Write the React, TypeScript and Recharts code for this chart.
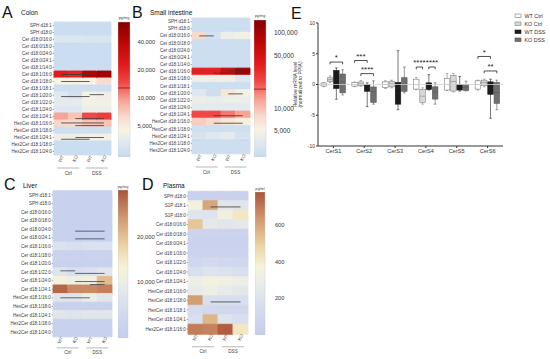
import React from "react";
import { BarChart, Bar, Cell, XAxis, YAxis, ReferenceLine, Label, Legend } from "recharts";

const FONT = "'Liberation Sans', Arial, Helvetica, sans-serif";

const COLUMNS = ["WT", "KO", "WT", "KO"];
const GROUPS = ["Ctrl", "DSS"];

// A: colon, pg/mg. columns: WT Ctrl, KO Ctrl, WT DSS, KO DSS
const COLON_LIPIDS = [
  "SPH d18:1", "SPH d18:0", "Cer d18:0/16:0", "Cer d18:0/18:0", "Cer d18:0/24:0", "Cer d18:0/24:1",
  "Cer d18:1/14:0", "Cer d18:1/16:0", "Cer d18:1/18:0", "Cer d18:1/18:1", "Cer d18:1/20:0",
  "Cer d18:1/22:0", "Cer d18:1/24:0", "Cer d18:1/24:1", "HexCer d18:1/16:0", "HexCer d18:1/18:0",
  "HexCer d18:1/24:1", "Hex2Cer d18:1/18:0", "Hex2Cer d18:1/24:0",
];
const COLON_VALUES = [
  [2450, 2450, 2450, 2450], [2450, 2450, 2450, 2450], [3100, 3100, 3000, 3000], [2450, 2450, 2450, 2450],
  [2450, 2450, 2450, 2450], [2450, 2450, 2450, 2450], [2500, 2500, 2500, 2500], [22500, 21000, 43000, 51000],
  [4300, 4300, 4500, 6000], [2550, 2550, 2550, 2550], [3300, 2700, 4300, 4000], [3500, 3500, 4200, 4200],
  [3200, 3200, 3800, 3800], [9300, 7400, 14500, 16000], [6300, 6300, 7400, 7400], [2600, 2600, 2600, 2600],
  [3900, 3900, 4200, 4200], [2450, 2450, 2450, 2450], [2450, 2450, 2450, 2450],
];
// [row, from column, to column, offset in rows]
const COLON_SIG = [
  [7, 0, 2, 0], [8, 0, 2, 0], [10, 0, 2, 0.15], [10, 2, 3, -0.12], [13, 1, 3, 0.3],
  [14, 0, 3, -0.08], [14, 1, 3, 0.3], [16, 1, 3, 0], [16, 0, 2, 0.25],
];

// B: small intestine, pg/mg
const SI_LIPIDS = COLON_LIPIDS;
const SI_VALUES = [
  [2560, 2560, 2560, 2560], [2560, 2560, 2560, 2560], [7950, 2800, 4240, 4800], [2560, 2560, 2560, 2560],
  [2560, 2560, 2560, 2560], [2560, 2560, 2560, 2560], [2560, 2560, 2560, 2560], [36000, 36000, 60000, 107000],
  [4600, 4600, 4600, 3450], [2560, 2560, 2560, 2560], [3450, 2560, 6400, 4800], [4240, 4000, 4240, 4240],
  [3730, 3730, 3730, 3730], [22700, 22700, 17000, 13100], [8990, 7950, 6400, 5690], [2600, 2600, 2600, 2600],
  [2900, 3450, 3730, 2900], [2560, 2560, 2560, 2560], [2560, 2560, 2560, 2560],
];
const SI_SIG = [
  [2, 0, 1, 0], [7, 1, 3, 0.22], [7, 2, 3, -0.1], [10, 2, 3, 0.1], [13, 1, 3, 0.15], [14, 1, 3, 0.2],
];

// C: liver, pg/mg
const LIVER_LIPIDS = [
  "SPH d18:1", "SPH d18:0", "Cer d18:0/16:0", "Cer d18:0/18:0", "Cer d18:0/24:0", "Cer d18:0/24:1",
  "Cer d18:1/16:0", "Cer d18:1/18:0", "Cer d18:1/20:0", "Cer d18:1/22:0", "Cer d18:1/24:0",
  "Cer d18:1/24:1", "HexCer d18:1/16:0", "HexCer d18:1/18:0", "HexCer d18:1/24:1",
  "Hex2Cer d18:1/18:0", "Hex2Cer d18:1/24:0",
];
const LIVER_VALUES = [
  [4700, 4700, 4700, 4700], [4700, 4700, 4700, 4700], [4700, 4700, 4700, 4700], [4700, 4700, 4700, 4700],
  [4700, 4700, 4700, 4700], [4700, 4700, 4700, 4700], [7400, 7000, 7400, 7400], [4900, 4900, 4900, 4900],
  [4800, 4800, 4800, 4800], [7950, 6900, 7400, 8300], [11700, 10400, 11100, 20600], [36600, 29000, 29000, 31000],
  [8300, 7950, 9950, 8300], [4800, 4800, 4800, 4800], [8300, 7800, 8300, 8300], [4800, 4800, 4800, 4800],
  [4700, 4700, 4700, 4700],
];
const LIVER_SIG = [
  [4, 1, 3, 0.22], [5, 1, 3, 0.12], [9, 0, 1, -0.15], [9, 1, 3, 0.15], [10, 1, 3, 0.1], [10, 2, 3, 0.45],
  [12, 0, 2, 0],
];

// D: plasma, pg/ml
const PLASMA_LIPIDS = [
  "SPH d18:0", "S1P d18:1", "S1P d18:0", "Cer d18:0/16:0", "Cer d18:0/18:0", "Cer d18:0/24:1",
  "Cer d18:1/16:0", "Cer d18:1/22:0", "Cer d18:1/24:0", "Cer d18:1/24:1", "HexCer d18:1/16:0",
  "HexCer d18:1/18:0", "HexCer d18:1/18:1", "HexCer d18:1/24:1", "Hex2Cer d18:1/16:0",
];
const PLASMA_VALUES = [
  [40, 40, 40, 40], [340, 600, 230, 220], [220, 210, 330, 420], [520, 250, 230, 250], [60, 60, 60, 60],
  [50, 50, 50, 50], [60, 70, 60, 60], [100, 130, 110, 100], [170, 210, 190, 170], [300, 340, 320, 290],
  [270, 300, 260, 240], [620, 180, 170, 170], [140, 120, 110, 110], [170, 560, 210, 170], [690, 680, 760, 420],
];
const PLASMA_SIG = [[1, 1, 3, 0.15], [11, 1, 3, 0.15]];

// E: relative mRNA, five-number summaries [min, q1, median, q3, max]
const GENES = ["CerS1", "CerS2", "CerS3", "CerS4", "CerS5", "CerS6"];
const WT_CTRL = [
  [-0.35, -0.25, 0, 0.25, 0.35], [-0.35, -0.27, 0, 0.3, 0.4], [-0.65, -0.48, 0, 0.43, 0.6],
  [-0.85, -0.75, 0, 0.86, 1.13], [-1.0, -0.9, 0, 0.97, 1.8], [-0.9, -0.75, 0, 0.6, 0.7],
];
const KO_CTRL = [
  [0.3, 0.45, 0.8, 1.1, 1.4], [-0.3, -0.2, 0.1, 0.43, 0.65], [-0.54, -0.38, 0.1, 0.54, 0.7],
  [-3.2, -2.9, -1.9, -0.8, -0.54], [-1.2, -1.07, 0.5, 1.5, 1.8], [-0.38, -0.2, 0.3, 0.7, 0.86],
];
const WT_DSS = [
  [-2.4, -0.65, 1.0, 2.3, 2.7], [-3.6, -1.1, -0.3, 0, 0.27], [-4.1, -3.2, -0.9, 0.32, 5.5],
  [-0.9, -0.8, -0.2, 0.27, 1.6], [-1.07, -0.9, -0.4, 0, 1.3], [-5.5, -1.6, -0.3, 0.43, 0.86],
];
const KO_DSS = [
  [-1.7, -1.35, 0.45, 1.7, 2.4], [-3.2, -2.9, -1.2, -0.4, 0.6], [-1.35, -1.1, 0, 1.1, 2.85],
  [-3.2, -2.37, -1.2, -0.38, 0.27], [-1.05, -0.95, -0.45, 0, 0.54], [-4.1, -3.06, -1.3, 0.32, 0.7],
];
const SIGNIF = [
  { gene: "CerS1", from: 1, to: 3, y: 3.65, mark: "*" },
  { gene: "CerS2", from: 0, to: 2, y: 3.9, mark: "***" },
  { gene: "CerS2", from: 1, to: 3, y: 1.77, mark: "****" },
  { gene: "CerS4", from: 0, to: 1, y: 2.84, mark: "****" },
  { gene: "CerS4", from: 2, to: 3, y: 2.84, mark: "****" },
  { gene: "CerS6", from: 0, to: 2, y: 4.56, mark: "*" },
  { gene: "CerS6", from: 1, to: 3, y: 2.2, mark: "**" },
];

const SERIES = [
  { name: "WT Ctrl", fill: "#ffffff", stroke: "#7a7a7a" },
  { name: "KO Ctrl", fill: "#d8d8d8", stroke: "#858585" },
  { name: "WT DSS", fill: "#1c1c1c", stroke: "#1c1c1c" },
  { name: "KO DSS", fill: "#6f6f6f", stroke: "#555555" },
];

const REDS: [number, string][] = [
  [0, "#c6daf0"], [0.1, "#dfe8f0"], [0.2, "#f8f3e2"], [0.3, "#f9d9cc"], [0.42, "#f6a394"],
  [0.55, "#f04848"], [0.68, "#e21a1a"], [0.85, "#bb0505"], [1, "#850000"],
];
const BROWNS: [number, string][] = [
  [0, "#c4cdec"], [0.2, "#d6ddef"], [0.38, "#eceee6"], [0.48, "#f7f2d8"], [0.62, "#ecd5a6"],
  [0.8, "#d39c72"], [1, "#ab543a"],
];

function ramp(stops: [number, string][], t: number) {
  const u = Math.max(0, Math.min(1, t));
  let i = 0;
  while (i < stops.length - 2 && u > stops[i + 1][0]) i++;
  const [t0, c0] = stops[i];
  const [t1, c1] = stops[i + 1];
  const f = (u - t0) / (t1 - t0);
  const a = parseInt(c0.slice(1), 16);
  const b = parseInt(c1.slice(1), 16);
  const ch = (s: number) => Math.round(((a >> s) & 255) + (((b >> s) & 255) - ((a >> s) & 255)) * f);
  return `rgb(${ch(16)},${ch(8)},${ch(0)})`;
}
const logColor = (stops: [number, string][], lo: number, hi: number) => (v: number) =>
  ramp(stops, Math.log(v / lo) / Math.log(hi / lo));
const linColor = (stops: [number, string][], lo: number, hi: number) => (v: number) =>
  ramp(stops, (v - lo) / (hi - lo));

// WT/KO rotated labels, plus the Ctrl / DSS group underline drawn from the first column of each pair
function ColTick(props: any) {
  const { x, y, payload, colW, groupDy } = props;
  const j = Math.floor(payload.value);
  const px = x + 3;
  const py = y + 1.5;
  const gx = x + colW / 2;
  const gy = y + groupDy;
  return (
    <g fontFamily={FONT} fill="#444">
      <text x={px} y={py} transform={`rotate(-60 ${px} ${py})`} textAnchor="end" fontSize={4.5}>
        {COLUMNS[j]}
      </text>
      {j % 2 === 0 ? (
        <g>
          <line x1={gx - 11} x2={gx + 11} y1={gy} y2={gy} stroke="#888" strokeWidth={0.6} />
          <text x={gx} y={gy + 6.5} textAnchor="middle" fontSize={4.6}>{GROUPS[j / 2]}</text>
        </g>
      ) : null}
    </g>
  );
}

function RowTick(props: any) {
  const { x, y, payload } = props;
  return (
    <text x={x} y={y} dy="0.35em" textAnchor="end" fontSize={4.5} fill="#3a3a3a" fontFamily={FONT}>
      {payload.value}
    </text>
  );
}

function Heatmap(p: any) {
  const data = p.lipids.map((name: string, i: number) => ({ name, v: p.values[i] }));
  const rowH = p.plotH / data.length;
  const height = p.mTop + p.plotH + p.axisH + 1;
  return (
    <div style={{ position: "absolute", left: p.left, top: p.top }}>
      <BarChart layout="vertical" width={p.labelW + p.plotW + 5} height={height} data={data}
        margin={{ top: p.mTop, right: 5, bottom: 1, left: 0 }} barCategoryGap={0} barGap={0}>
        <XAxis type="number" domain={[0, 4]} ticks={[0.5, 1.5, 2.5, 3.5]} interval={0} axisLine={false}
          tickLine={false} tickSize={0} tickMargin={0} height={p.axisH}
          tick={<ColTick colW={p.plotW / 4} groupDy={p.groupDy} />} />
        <YAxis type="category" dataKey="name" width={p.labelW} interval={0} axisLine={false} tickSize={1.5}
          tickMargin={0.8} tickLine={{ stroke: "#666", strokeWidth: 0.5 }} tick={<RowTick />} />
        {COLUMNS.map((c, j) => (
          <Bar key={j} dataKey={() => 1} stackId="h" isAnimationActive={false}>
            {data.map((d: any, i: number) => (
              <Cell key={i} fill={p.colorOf(d.v[j])} stroke={p.colorOf(d.v[j])} strokeWidth={0.9} />
            ))}
          </Bar>
        ))}
        {p.sig.map(([r, a, b, dy]: number[], k: number) => (
          <ReferenceLine key={k} ifOverflow="visible"
            segment={[{ x: a + 0.5, y: data[r].name }, { x: b + 0.5, y: data[r].name }]}
            shape={(lp: any) => (
              <line x1={lp.x1} x2={lp.x2} y1={lp.y1 + dy * rowH} y2={lp.y2 + dy * rowH}
                stroke={p.lineColor} strokeWidth={0.8} />
            )} />
        ))}
      </BarChart>
    </div>
  );
}

function Colorbar(p: any) {
  return (
    <div style={{ position: "absolute", left: p.left, top: p.top }}>
      <BarChart width={p.barW + 40} height={p.height} data={[{ k: "c" }]}
        margin={{ top: 0, right: 0, bottom: 0, left: 0 }} barCategoryGap={0}>
        <defs>
          <linearGradient id={p.id} x1="0" y1="1" x2="0" y2="0">
            {p.stops.map(([t, c]: [number, string]) => <stop key={t} offset={t} stopColor={c} />)}
          </linearGradient>
        </defs>
        <XAxis dataKey="k" hide />
        <YAxis orientation="right" width={40} type="number" scale={p.scale} domain={p.domain} ticks={p.ticks}
          allowDataOverflow interval={0} axisLine={false} tickLine={false} tickMargin={p.gap}
          tickFormatter={(v: number) => v.toLocaleString("en-US")}
          tick={{ fontSize: p.fontSize, fill: "#333", fontFamily: FONT }} />
        <Bar dataKey={() => p.domain} fill={`url(#${p.id})`} stroke="#c8c8c8" strokeWidth={0.4} isAnimationActive={false} />
        {p.mark ? <ReferenceLine y={p.mark} stroke="#5a1212" strokeWidth={0.7} /> : null}
      </BarChart>
    </div>
  );
}

const BAR_GAP = 0.8;

function BoxShape(props: any) {
  const { x, y, width, height, payload, sIdx } = props;
  const [mn, q1, md, q3, mx] = payload.stats[sIdx];
  const top = Math.min(y, y + height);
  const bot = Math.max(y, y + height);
  const py = (v: number) => top + ((mx - v) / (mx - mn)) * (bot - top);
  const s = SERIES[sIdx];
  const cx = x + width / 2;
  const marks = SIGNIF.filter((b) => b.gene === payload.gene && b.from === sIdx);
  return (
    <g>
      <line x1={cx} x2={cx} y1={py(mx)} y2={py(mn)} stroke={s.stroke} strokeWidth={0.6} />
      <line x1={cx - 1.3} x2={cx + 1.3} y1={py(mx)} y2={py(mx)} stroke={s.stroke} strokeWidth={0.6} />
      <line x1={cx - 1.3} x2={cx + 1.3} y1={py(mn)} y2={py(mn)} stroke={s.stroke} strokeWidth={0.6} />
      <rect x={x} y={py(q3)} width={width} height={py(q1) - py(q3)} fill={s.fill} stroke={s.stroke} strokeWidth={0.6} />
      <line x1={x} x2={x + width} y1={py(md)} y2={py(md)} stroke={s.stroke} strokeWidth={0.6} />
      {marks.map((b, k) => {
        const x2 = cx + (b.to - b.from) * (width + BAR_GAP);
        const by = py(b.y);
        return (
          <g key={k}>
            <path d={`M${cx},${by + 2.3}V${by}H${x2}V${by + 2.3}`} fill="none" stroke="#222" strokeWidth={0.8} />
            <text x={(cx + x2) / 2} y={by - 1.8} textAnchor="middle" fontSize={8} fill="#222" fontFamily={FONT}>
              {b.mark}
            </text>
          </g>
        );
      })}
    </g>
  );
}

function YTitle(props: any) {
  const vb = props.viewBox || { x: 0, y: 23, height: 123 };
  const cy = vb.y + vb.height / 2;
  const x1 = vb.x + 27;
  const x2 = vb.x + 32;
  return (
    <g fontFamily={FONT} fontSize={5} fill="#333">
      <text x={x1} y={cy} transform={`rotate(-90 ${x1} ${cy})`} textAnchor="middle">Relative mRNA level</text>
      <text x={x2} y={cy} transform={`rotate(-90 ${x2} ${cy})`} textAnchor="middle">(normalized to PPIA)</text>
    </g>
  );
}

function BoxLegend() {
  return (
    <svg width={37} height={34}>
      {SERIES.map((s, i) => (
        <g key={s.name}>
          <rect x={2} y={4 + i * 8} width={6} height={3.6} fill={s.fill} stroke={s.stroke} strokeWidth={0.6} />
          <text x={11.5} y={7.6 + i * 8} fontSize={5.4} fill="#333" fontFamily={FONT}>{s.name}</text>
        </g>
      ))}
    </svg>
  );
}

function BoxPanel() {
  const data = GENES.map((gene, i) => ({ gene, stats: [WT_CTRL[i], KO_CTRL[i], WT_DSS[i], KO_DSS[i]] }));
  return (
    <div style={{ position: "absolute", left: 270, top: 0 }}>
      <BarChart width={280} height={165} data={data} margin={{ top: 23, right: 47, left: 0, bottom: 5 }}
        barSize={5.5} barGap={BAR_GAP}>
        <ReferenceLine y={0} stroke="#d2d2d2" strokeWidth={0.8} />
        <XAxis dataKey="gene" height={14} interval={0} stroke="#333" tickSize={2} tickMargin={1}
          tick={{ fontSize: 5.6, fill: "#333", fontFamily: FONT }} />
        <YAxis width={48} type="number" domain={[-10, 10]} ticks={[-10, -5, 0, 5, 10]} interval={0} stroke="#333"
          tickSize={2} tickMargin={1} tick={{ fontSize: 5, fill: "#333", fontFamily: FONT }}>
          <Label content={(lp: any) => <YTitle {...lp} />} />
        </YAxis>
        {SERIES.map((s, j) => (
          <Bar key={s.name} name={s.name} fill={s.fill} isAnimationActive={false}
            dataKey={(d: any) => [d.stats[j][0], d.stats[j][4]]}
            shape={(bp: any) => <BoxShape {...bp} sIdx={j} />} />
        ))}
        <Legend layout="horizontal" verticalAlign="middle" align="center"
          wrapperStyle={{ position: "absolute", left: 243, top: 10, width: 37, height: 34 }}
          content={() => <BoxLegend />} />
      </BarChart>
    </div>
  );
}

export default function App() {
  return (
    <div style={{ position: "absolute", left: 0, top: 0, width: 550, height: 359, background: "#fff", overflow: "hidden", fontFamily: FONT }}>
      <Heatmap left={0} top={0} labelW={54} plotW={57} mTop={22} plotH={133} axisH={24} groupDy={13}
        lipids={COLON_LIPIDS} values={COLON_VALUES} sig={COLON_SIG} lineColor="#3a3a3a"
        colorOf={logColor(REDS, 2300, 65000)} />
      <Colorbar id="cbA" left={118} top={22} barW={12} height={135} stops={REDS} scale="log"
        domain={[2300, 65000]} ticks={[5000, 10000, 20000, 40000]} fontSize={5.8} gap={1.5} mark={12700} />

      <Heatmap left={130} top={0} labelW={62} plotW={58} mTop={18} plotH={136} axisH={25} groupDy={13}
        lipids={SI_LIPIDS} values={SI_VALUES} sig={SI_SIG} lineColor="#3a3a3a"
        colorOf={logColor(REDS, 2260, 149000)} />
      <Colorbar id="cbB" left={254} top={20} barW={12} height={137} stops={REDS} scale="log"
        domain={[2260, 149000]} ticks={[5000, 10000, 50000, 100000]} fontSize={6.5} gap={2} mark={18000} />

      <Heatmap left={0} top={165} labelW={53} plotW={59} mTop={25.7} plotH={145.7} axisH={20} groupDy={11.5}
        lipids={LIVER_LIPIDS} values={LIVER_VALUES} sig={LIVER_SIG} lineColor="#3e4558"
        colorOf={logColor(BROWNS, 4200, 41000)} />
      <Colorbar id="cbC" left={118} top={190} barW={10} height={148} stops={BROWNS} scale="log"
        domain={[4200, 41000]} ticks={[10000, 20000]} fontSize={5.8} gap={3} />

      <Heatmap left={130} top={165} labelW={58} plotW={60} mTop={26.25} plotH={142.5} axisH={22} groupDy={13}
        lipids={PLASMA_LIPIDS} values={PLASMA_VALUES} sig={PLASMA_SIG} lineColor="#3a3a3a"
        colorOf={linColor(BROWNS, 0, 780)} />
      <Colorbar id="cbD" left={255} top={192} barW={10} height={143} stops={BROWNS} scale="linear"
        domain={[0, 780]} ticks={[200, 400, 600]} fontSize={5.6} gap={4} />

      <BoxPanel />

      <svg width={550} height={359} style={{ position: "absolute", left: 0, top: 0, pointerEvents: "none" }}
        fontFamily={FONT} fill="#111">
        <text x={2} y={18.3} fontSize={16}>A</text>
        <text x={21} y={15} fontSize={6.5}>Colon</text>
        <text x={132} y={18.3} fontSize={16}>B</text>
        <text x={150} y={15} fontSize={6.5}>Small intestine</text>
        <text x={4} y={190} fontSize={16}>C</text>
        <text x={23} y={188} fontSize={6.5}>Liver</text>
        <text x={142} y={190} fontSize={16}>D</text>
        <text x={163} y={188} fontSize={6.5}>Plasma</text>
        <text x={291} y={19} fontSize={16}>E</text>
        <text x={124} y={18.5} fontSize={3.8} textAnchor="middle" fill="#444">pg/mg</text>
        <text x={260} y={16.5} fontSize={3.8} textAnchor="middle" fill="#444">pg/mg</text>
        <text x={123} y={187.5} fontSize={3.8} textAnchor="middle" fill="#444">pg/mg</text>
        <text x={260} y={189.5} fontSize={3.8} textAnchor="middle" fill="#444">pg/ml</text>
      </svg>
    </div>
  );
}
